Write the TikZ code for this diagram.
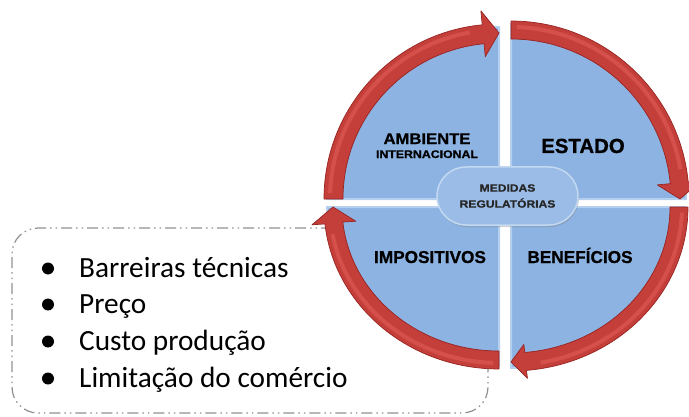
\documentclass[tikz,border=0pt]{standalone}
\usepackage{fontspec}
\usepackage{graphicx}
\setmainfont{Carlito}
\newfontfamily\arialf[FakeBold=0.8]{Liberation Sans Bold}
\usetikzlibrary{shadows}
\definecolor{qblue}{HTML}{8DB3E2}
\definecolor{qedge}{HTML}{B5D0EF}
\definecolor{rfill}{HTML}{C43E3A}
\definecolor{rdark}{HTML}{962421}
\definecolor{rlight}{HTML}{DA5550}
\definecolor{cblue}{HTML}{9ABCE6}
\definecolor{cedge}{HTML}{C3D8F1}
\definecolor{boxgray}{HTML}{909090}
\begin{document}
\begin{tikzpicture}[x=1pt,y=1pt,
  quad/.style={fill=qblue, draw=qedge, line width=2pt, line join=round},
  redband/.style={fill=rfill, draw=rdark, line width=0.7pt, line join=round},
  redglow/.style={draw=rlight, line width=4pt, opacity=0.8},
  lbl/.style={text=black, inner sep=0pt, anchor=base},
  itemtxt/.style={font=\fontsize{29.3}{35}\selectfont, anchor=base west, inner sep=0pt},
  bulletdot/.style={fill=black},
  listframe/.style={draw=boxgray, line width=1.2pt, rounded corners=26pt,
    dash pattern=on 11pt off 4pt on 1.5pt off 4pt on 1.5pt off 4pt,
    minimum width=476pt, minimum height=185pt, inner sep=0pt}
]
\useasboundingbox (0,0) rectangle (689,416);

% dashed list frame (behind the circle)
\node[listframe] (listbox) at (250,95.5) {};

% list
\fill[bulletdot] (48,147.5) circle (6pt);
\fill[bulletdot] (48,111.5) circle (6pt);
\fill[bulletdot] (48,74.5) circle (6pt);
\fill[bulletdot] (48,37.5) circle (6pt);
\node[itemtxt] (l1) at (79,139) {Barreiras técnicas};
\node[itemtxt] (l2) at (79,103) {Preço};
\node[itemtxt] (l3) at (79,66) {Custo produção};
\node[itemtxt] (l4) at (79,29) {Limitação do comércio};

% top-left quadrant
\begin{scope}[shift={(499,217)}]
  \path[quad] (0,0) -- (180:172pt and 172pt) arc[start angle=180, end angle=90, x radius=172pt, y radius=172pt] -- cycle;
  \path[redband] (180:175pt and 175pt) arc[start angle=180, end angle=95.5, x radius=175pt, y radius=175pt]
    -- (95.5:189pt and 189pt) -- (90:166pt and 166pt) -- (95.5:143pt and 143pt) -- (95.5:156pt and 156pt)
    arc[start angle=95.5, end angle=180, x radius=156pt, y radius=156pt] -- cycle;
  \draw[redglow] (178:169pt and 169pt) arc[start angle=178, end angle=100, x radius=169pt, y radius=169pt];
\end{scope}
% top-right quadrant
\begin{scope}[shift={(511,217)}]
  \path[quad] (0,0) -- (90:175pt and 175pt) arc[start angle=90, end angle=0, x radius=175pt, y radius=175pt] -- cycle;
  \path[redband] (90:178pt and 178pt) arc[start angle=90, end angle=5.5, x radius=178pt, y radius=178pt]
    -- (5.5:191pt and 191pt) -- (0:169pt and 169pt) -- (5.5:147pt and 147pt) -- (5.5:160pt and 160pt)
    arc[start angle=5.5, end angle=90, x radius=160pt, y radius=160pt] -- cycle;
  \draw[redglow] (88:172pt and 172pt) arc[start angle=88, end angle=10, x radius=172pt, y radius=172pt];
\end{scope}
% bottom-right quadrant
\begin{scope}[shift={(511,209)}]
  \path[quad] (0,0) -- (0:174pt and 161pt) arc[start angle=0, end angle=-90, x radius=174pt, y radius=161pt] -- cycle;
  \path[redband] (0:177pt and 164pt) arc[start angle=0, end angle=-85, x radius=177pt, y radius=164pt]
    -- (-85:189pt and 172pt) -- (-90:168pt and 155pt) -- (-85:147pt and 138pt) -- (-85:159pt and 146pt)
    arc[start angle=-85, end angle=0, x radius=159pt, y radius=146pt] -- cycle;
  \draw[redglow] (-2:171pt and 158pt) arc[start angle=-2, end angle=-80, x radius=171pt, y radius=158pt];
\end{scope}
% bottom-left quadrant
\begin{scope}[shift={(499,209)}]
  \path[quad] (0,0) -- (270:172pt and 159pt) arc[start angle=270, end angle=180, x radius=172pt, y radius=159pt] -- cycle;
  \path[redband] (270:175pt and 162pt) arc[start angle=270, end angle=186, x radius=175pt, y radius=162pt]
    -- (186:188pt and 170pt) -- (180:166pt and 153pt) -- (186:144pt and 136pt) -- (186:157pt and 144pt)
    arc[start angle=186, end angle=270, x radius=157pt, y radius=144pt] -- cycle;
  \draw[redglow] (268:169pt and 156pt) arc[start angle=268, end angle=190, x radius=169pt, y radius=156pt];
\end{scope}

% quadrant labels
\node[lbl, font=\arialf\fontsize{15.4}{16}\selectfont] (amb) at (427,272) {\scalebox{1.08}[1]{AMBIENTE}};
\node[lbl, font=\arialf\fontsize{11}{12}\selectfont] (int) at (427,258) {\scalebox{1.12}[1]{INTERNACIONAL}};
\node[lbl, font=\arialf\fontsize{20.4}{22}\selectfont] (est) at (583,263) {ESTADO};
\node[lbl, font=\arialf\fontsize{17.2}{18}\selectfont] (imp) at (430,153) {IMPOSITIVOS};
\node[lbl, font=\arialf\fontsize{17.2}{18}\selectfont] (ben) at (580,153) {BENEFÍCIOS};

% centre
\node[fill=cblue, draw=cedge, line width=1.5pt, rounded corners=29pt,
      minimum width=141pt, minimum height=58pt, inner sep=0pt, align=center,
      drop shadow={shadow xshift=1pt, shadow yshift=-2pt, opacity=0.35},
      font=\arialf\fontsize{10.5}{16}\selectfont, text=black!85]
  (med) at (507.5,220) {\scalebox{1.15}[1]{MEDIDAS}\\\scalebox{1.15}[1]{REGULATÓRIAS}};
\end{tikzpicture}
\end{document}
